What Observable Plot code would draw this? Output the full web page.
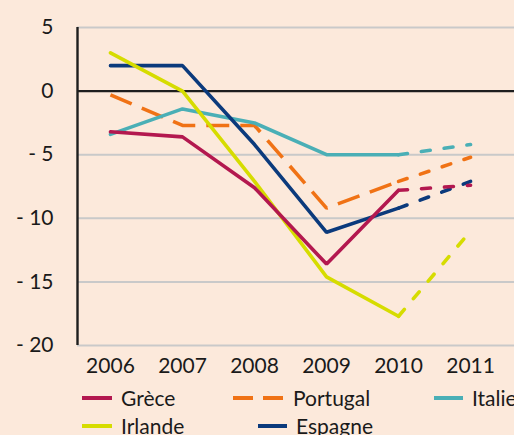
<!DOCTYPE html>
<html>
<head>
<meta charset="utf-8">
<script src="https://cdn.jsdelivr.net/npm/d3@7"></script>
<script src="https://cdn.jsdelivr.net/npm/@observablehq/plot@0.6"></script>
<style>
  html, body { margin: 0; padding: 0; background: #fce9db; }
  #wrap { position: relative; width: 514px; height: 435px; overflow: hidden; font-family: Lato, sans-serif; color: #1a1a1a; }
  #legend { position: absolute; left: 0; top: 378px; width: 514px; height: 57px; }
  .item { position: absolute; display: flex; align-items: center; font-size: 21px; line-height: 21px; white-space: nowrap; }
  .item svg { display: block; margin-right: 9px; }
</style>
</head>
<body>
<div id="wrap">
  <div id="chart"></div>
  <div id="legend"></div>
</div>
<script>
// ---- data ----
const years = [2006, 2007, 2008, 2009, 2010, 2011];
const countries = ["Grèce", "Portugal", "Italie", "Irlande", "Espagne"];
const grece    = [-3.2, -3.6, -7.6, -13.6, -7.8, -7.4];
const portugal = [-0.3, -2.7, -2.7, -9.2, -7.1, -5.2];
const italie   = [-3.4, -1.4, -2.5, -5.0, -5.0, -4.2];
const irlande  = [3.0, 0.0, -7.1, -14.6, -17.7, -11.0];
const espagne  = [2.0, 2.0, -4.2, -11.1, -9.2, -7.1];
const yTicks = [5, 0, -5, -10, -15, -20];
const forecastFrom = 2010;

// ---- styles ----
const colors = {
  "Grèce": "#b3184f",
  "Portugal": "#f07215",
  "Italie": "#4aafb6",
  "Irlande": "#d6dc00",
  "Espagne": "#0b3a7c"
};
const values = { "Grèce": grece, "Portugal": portugal, "Italie": italie, "Irlande": irlande, "Espagne": espagne };
const drawOrder = ["Portugal", "Italie", "Espagne", "Irlande", "Grèce"];

const actual = [], forecast = [];
for (const c of drawOrder) {
  years.forEach((yr, i) => {
    const row = { country: c, year: yr, value: values[c][i] };
    if (yr <= forecastFrom) actual.push(row);
    if (yr >= forecastFrom) forecast.push(row);
  });
}

const xDomain = [2005.542, 2011.61];
const fmt = d => d < 0 ? "- " + (-d) : String(d);

const chart = Plot.plot({
  width: 514,
  height: 378,
  marginLeft: 77,
  marginRight: 0,
  marginTop: 27,
  marginBottom: 33,
  style: { background: "transparent", fontFamily: "Lato, sans-serif", fontSize: "21px", color: "#1a1a1a" },
  x: { type: "linear", domain: xDomain, axis: null, label: null },
  y: { domain: [-20, 5], axis: null, label: null },
  marks: [
    Plot.ruleY(yTicks.filter(d => d !== 0), { stroke: "#c9c9c9", strokeWidth: 2 }),
    Plot.ruleY([0], { stroke: "#1e1e1e", strokeWidth: 2.2 }),
    Plot.ruleX([xDomain[0]], { y1: yTicks[yTicks.length - 1], y2: yTicks[0], stroke: "#1e1e1e", strokeWidth: 2.4 }),
    Plot.axisY({ ticks: yTicks, tickFormat: fmt, tickSize: 0, tickPadding: 24, fontSize: 21, fill: "#1a1a1a", label: null }),
    Plot.axisX({ ticks: years, tickFormat: d => String(d), tickSize: 0, tickPadding: 13, fontSize: 21, fill: "#1a1a1a", label: null }),
    ...drawOrder.map(c => Plot.line(actual.filter(d => d.country === c), {
      x: "year", y: "value", stroke: colors[c], strokeWidth: 3.6,
      strokeLinejoin: "miter", strokeLinecap: c === "Portugal" ? "butt" : "round",
      strokeDasharray: c === "Portugal" ? "23,11" : null
    })),
    ...drawOrder.map(c => Plot.line(forecast.filter(d => d.country === c), {
      x: "year", y: "value", stroke: colors[c], strokeWidth: 3.6,
      strokeLinecap: "round", strokeDasharray: "9,14", strokeDashoffset: 0
    }))
  ]
});
document.getElementById("chart").appendChild(chart);

// ---- legend ----
const legendItems = [
  { name: "Grèce", left: 82, top: 9, w: 30, dash: null },
  { name: "Portugal", left: 233, top: 9, w: 51, dash: "20,10" },
  { name: "Italie", left: 434, top: 9, w: 29, dash: null },
  { name: "Irlande", left: 82, top: 37, w: 30, dash: null },
  { name: "Espagne", left: 258, top: 37, w: 29, dash: null }
];
const legend = document.getElementById("legend");
for (const it of legendItems) {
  const div = document.createElement("div");
  div.className = "item";
  div.style.left = it.left + "px";
  div.style.top = it.top + "px";
  const ns = "http://www.w3.org/2000/svg";
  const s = document.createElementNS(ns, "svg");
  s.setAttribute("width", it.w);
  s.setAttribute("height", 6);
  const l = document.createElementNS(ns, "line");
  l.setAttribute("x1", 0); l.setAttribute("x2", it.w);
  l.setAttribute("y1", 3); l.setAttribute("y2", 3);
  l.setAttribute("stroke", colors[it.name]);
  l.setAttribute("stroke-width", 4);
  if (it.dash) l.setAttribute("stroke-dasharray", it.dash);
  s.appendChild(l);
  const t = document.createElement("span");
  t.textContent = it.name;
  div.appendChild(s);
  div.appendChild(t);
  legend.appendChild(div);
}
</script>
</body>
</html>
